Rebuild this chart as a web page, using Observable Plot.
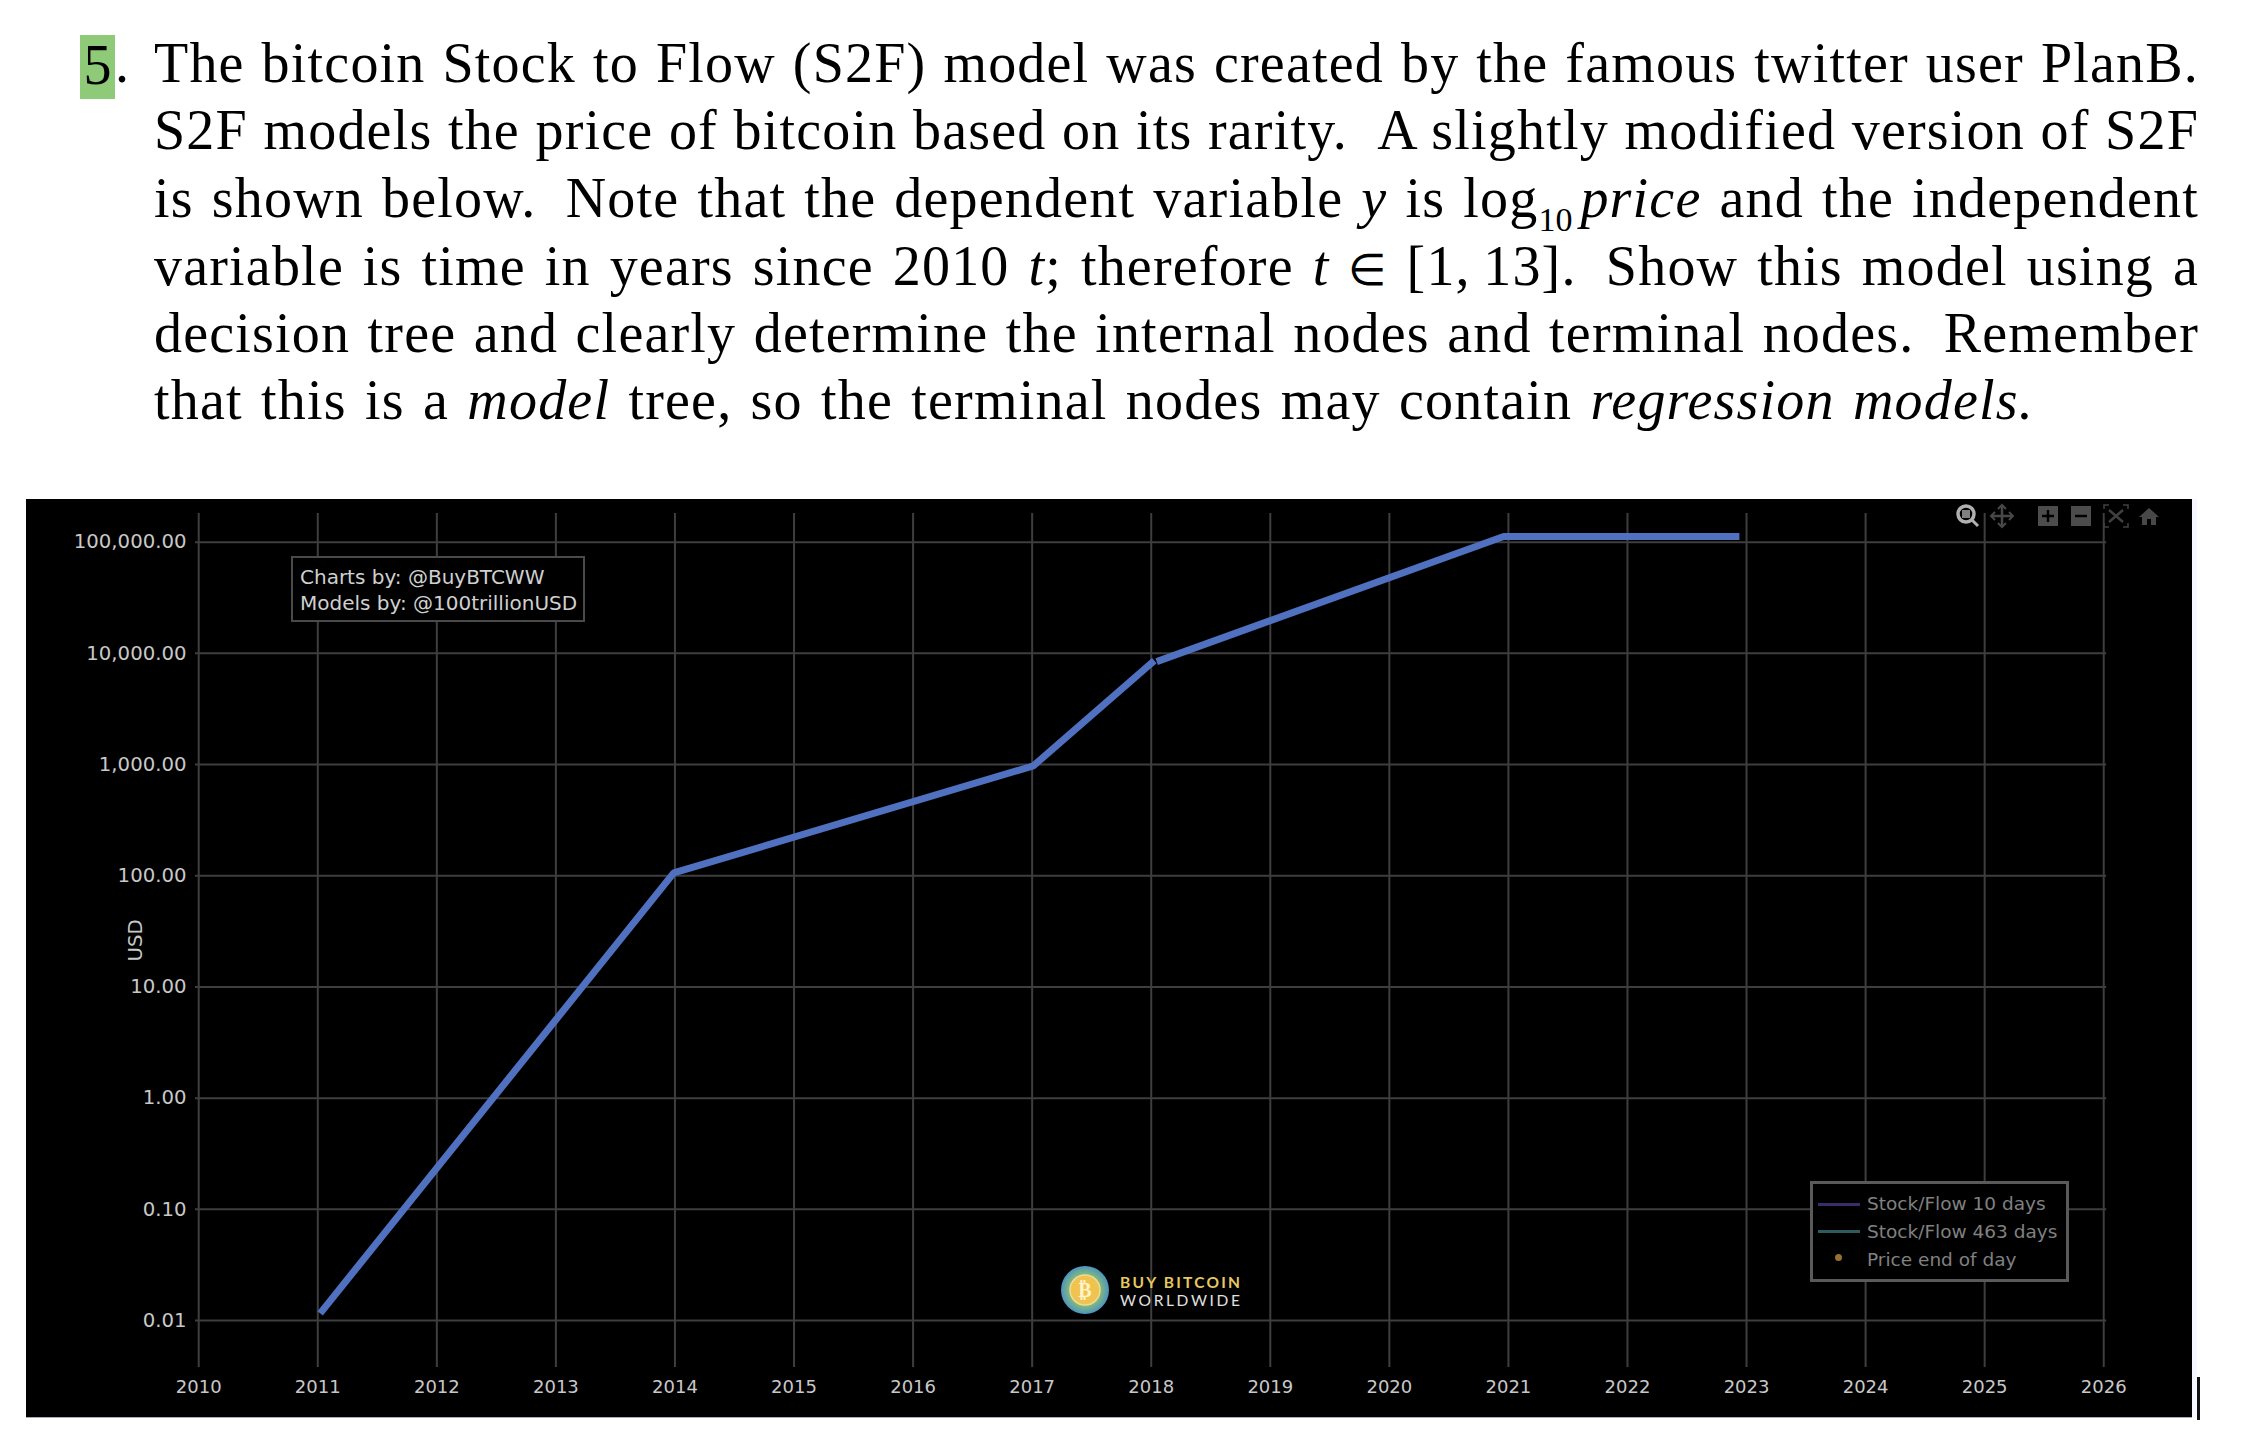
<!DOCTYPE html>
<html><head><meta charset="utf-8">
<script src="https://cdn.jsdelivr.net/npm/d3@7"></script>
<script src="https://cdn.jsdelivr.net/npm/@observablehq/plot@0.6"></script>
<style>
html,body{margin:0;padding:0;background:#fff}
#page{position:relative;width:2248px;height:1444px;overflow:hidden}
#question{height:499px;position:relative;font-family:"Liberation Serif",serif;font-size:56px;color:#000}
.qline{position:absolute;left:154px;width:2045px;line-height:68px;height:68px;white-space:nowrap;text-align:justify;text-align-last:justify;letter-spacing:1.2px}
.qline sub{font-size:34px;line-height:0;vertical-align:-14px;margin-right:8px;letter-spacing:0}
.qline .in{font-size:44px}
#num{position:absolute;left:80px;top:35px;width:35px;height:64px;background:#8fca78;line-height:60px;font-size:56px;text-align:center}
#dot{position:absolute;left:115px;top:29px;line-height:68px}
#chart{position:absolute;left:25.5px;top:499px;width:2166.5px;height:918px;background:#000;border-bottom:1px solid #aab;box-shadow:5px 0 0 #f6f7ff}
#chart svg{display:block;background:transparent}
.box{position:absolute;font-family:"DejaVu Sans",sans-serif;background:#000;box-sizing:border-box}
#credit{left:291px;top:556px;width:294px;height:66px;border:2px solid #4a4a4a;color:#d0d0d0;font-size:20px;line-height:26px;padding:6px 0 0 7px;white-space:nowrap}
#legend{left:1810px;top:1181px;width:259px;height:101px;border:3px solid #5a5a5a;color:#808080;font-size:18.5px}
.lg{position:absolute;left:54px;white-space:nowrap;line-height:24px}
.sw{position:absolute;left:5px;width:42px;height:3px}
#cursor{position:absolute;left:2197px;top:1377px;width:3px;height:43px;background:#111}
#overlay{position:absolute;left:0;top:0}
</style></head><body>
<div id="page">
  <div id="question"></div>
  <div id="chart"></div>
  <div class="box" id="credit"></div>
  <div class="box" id="legend"></div>
  <svg id="overlay" width="2248" height="1444" style="pointer-events:none">
    <defs><radialGradient id="earth"><stop offset="0.6" stop-color="#8fbf6a"/><stop offset="1" stop-color="#4a94c4"/></radialGradient></defs>
    <!-- logo -->
    <circle cx="1085" cy="1290" r="24" fill="url(#earth)"/>
    <circle cx="1085" cy="1290" r="15" fill="#f0c24e" stroke="#e8dca0" stroke-width="1.5"/>
    <text x="1085" y="1297" text-anchor="middle" font-family="DejaVu Sans" font-weight="bold" font-size="20" fill="#fff3c8">₿</text>
    <text x="1120" y="1288" font-family="Lato" font-weight="bold" font-size="15.5" textLength="120" fill="#e6c860">BUY BITCOIN</text>
    <text x="1120" y="1306" font-family="Lato" font-size="15.5" textLength="120" fill="#e0e0e0">WORLDWIDE</text>
    <!-- toolbar -->
    <g fill="none">
      <circle cx="1966" cy="514" r="8" stroke="#b0b0b0" stroke-width="3.5"/>
      <rect x="1962" y="510" width="8" height="8" fill="#808080"/>
      <line x1="1972" y1="520" x2="1978" y2="526" stroke="#b0b0b0" stroke-width="3"/>
      <path d="M1992 516H2012M2002 506V526" stroke="#484848" stroke-width="2.5"/>
      <path d="M1998 509L2002 505L2006 509M1998 523L2002 527L2006 523M1995 512L1991 516L1995 520M2009 512L2013 516L2009 520" stroke="#484848" stroke-width="2"/>
      <rect x="2038" y="506" width="20" height="20" fill="#4c4c4c"/>
      <path d="M2042 516H2054M2048 510V522" stroke="#000" stroke-width="2.5"/>
      <rect x="2071" y="506" width="20" height="20" fill="#4c4c4c"/>
      <path d="M2075 516H2087" stroke="#000" stroke-width="2.5"/>
      <path d="M2104 509V505H2109M2123 505H2128V509M2128 523V527H2123M2109 527H2104V523" stroke="#404040" stroke-width="1.5"/>
      <path d="M2109 510L2123 522M2123 510L2109 522" stroke="#404040" stroke-width="2.5"/>
      <path d="M2139 517L2149 508L2159 517H2156V525H2151V519H2147V525H2142V517Z" fill="#484848"/>
    </g>
  </svg>
  <div id="cursor"></div>
</div>
<script>
// Question text, one entry per printed line
const questionLines = [
  "The bitcoin Stock to Flow (S2F) model was created by the famous twitter user PlanB.",
  "S2F models the price of bitcoin based on its rarity.&ensp;A slightly modified version of S2F",
  "is shown below.&ensp;Note that the dependent variable <i>y</i> is log<sub>10</sub><i>price</i> and the independent",
  "variable is time in years since 2010 <i>t</i>; therefore <i>t</i> <span class=\"in\">∈</span> [1,&thinsp;13].&ensp;Show this model using a",
  "decision tree and clearly determine the internal nodes and terminal nodes.&ensp;Remember",
  "that this is a <i>model</i> tree, so the terminal nodes may contain <i>regression models.</i>"
];
const questionNumber = "5";
const creditLines = ["Charts by: @BuyBTCWW", "Models by: @100trillionUSD"];
const legendLabels = ["Stock/Flow 10 days", "Stock/Flow 463 days", "Price end of day"];
const legendColors = ["#3b2d6b", "#2f5a60", "#96702f"];
const yAxisLabel = "USD";

// Axis ticks
const yearTicks = d3.range(2010, 2027);
const usdTicks = [0.01, 0.1, 1, 10, 100, 1000, 10000, 100000];

// S2F model series (the line has a small break after 2018)
const modelYears = [2011.02, 2013.99, 2017.01, 2018.026, 2018.046, 2020.96, 2022.94];
const modelUsd = [0.0116, 106, 973, 8590, 8420, 112600, 112600];
const modelPiece = ["a", "a", "a", "a", "b", "b", "b"];
const modelData = modelYears.map((year, i) => ({year, usd: modelUsd[i], piece: modelPiece[i]}));

// Text
const q = document.getElementById("question");
q.innerHTML = `<div id="num">${questionNumber}</div><div id="dot">.</div>`;
const lineTops = [29, 96, 164, 232, 299, 366];
questionLines.forEach((l, i) => {
  const d = document.createElement("div");
  d.className = "qline";
  d.style.top = lineTops[i] + "px";
  if (i === 5) d.style.width = "1880px";
  d.innerHTML = l;
  q.appendChild(d);
});
document.getElementById("credit").innerHTML = creditLines.join("<br>");
const lg = document.getElementById("legend");
legendLabels.forEach((t, i) => {
  const top = 8 + i * 28;
  lg.insertAdjacentHTML("beforeend", `<div class="lg" style="top:${top}px">${t}</div>`);
  const swTop = 5 + i * 28;
  if (i < 2) lg.insertAdjacentHTML("beforeend", `<div class="sw" style="top:${swTop + (i ? 13 : 14)}px;background:${legendColors[i]}"></div>`);
  else lg.insertAdjacentHTML("beforeend", `<div class="sw" style="left:22px;top:${swTop + 9}px;width:7px;height:7px;border-radius:50%;background:${legendColors[i]}"></div>`);
});

// Chart
const grid = "#3e3e3e";
const labelColor = "#c8c8c8";
const fig = Plot.plot({
  width: 2166.5,
  height: 918,
  marginTop: 14,
  marginBottom: 50,
  marginLeft: 169,
  marginRight: 86.3,
  style: {background: "transparent", fontFamily: "DejaVu Sans"},
  x: {type: "linear", domain: [2009.973, 2026.025]},
  y: {type: "log", domain: [0.00378, 181000]},
  marks: [
    Plot.ruleX(yearTicks, {stroke: grid, strokeWidth: 2}),
    Plot.ruleY(usdTicks, {stroke: grid, strokeWidth: 2}),
    Plot.line(modelData, {x: "year", y: "usd", z: "piece", stroke: "#5070c0", strokeWidth: 7, strokeLinecap: "butt", strokeLinejoin: "miter"}),
    Plot.axisX({ticks: yearTicks, tickFormat: "d", tickSize: 0, tickPadding: 13, fontSize: 18, color: labelColor, label: null}),
    Plot.axisY({ticks: usdTicks, tickFormat: d3.format(",.2f"), tickSize: 0, tickPadding: 9, fontSize: 19.7, color: labelColor, label: yAxisLabel, labelAnchor: "center", labelArrow: "none", labelOffset: 68})
  ]
});
document.getElementById("chart").appendChild(fig);
</script>
</body></html>
